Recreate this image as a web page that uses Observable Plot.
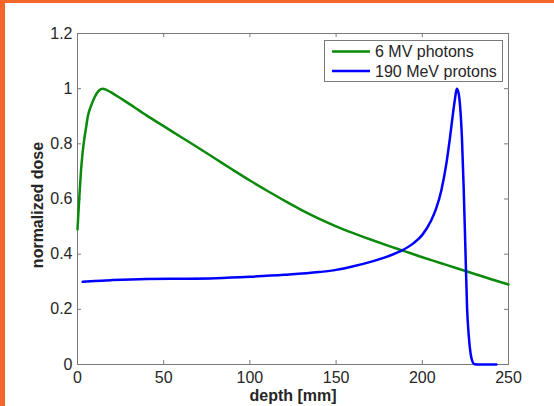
<!DOCTYPE html>
<html>
<head>
<meta charset="utf-8">
<script src="https://cdn.jsdelivr.net/npm/d3@7"></script>
<script src="https://cdn.jsdelivr.net/npm/@observablehq/plot@0.6"></script>
<style>
  html, body { margin: 0; padding: 0; background: #fff; }
  #wrap { position: relative; width: 554px; height: 406px; overflow: hidden; background: #fff; }
  #wrap svg { position: absolute; left: 0; top: 0; font-size: 16px; }
  .bar-left { position: absolute; left: 0; top: 0; width: 5px; height: 406px; background: #f4662a; }
  .bar-top { position: absolute; left: 0; top: 0; width: 554px; height: 3px; background: #f4662a; }
</style>
</head>
<body>
<div id="wrap"><div class="bar-left"></div><div class="bar-top"></div></div>
<script>
const photonDepth = [0, 1, 2, 3, 4, 5, 6, 8, 10, 12, 14.5, 17, 20, 25, 30, 40, 50, 60, 70, 80, 90, 100, 110, 120, 130, 140, 150, 160, 170, 180, 190, 200, 210, 220, 230, 240, 250];
const photonDose  = [0.49, 0.60, 0.70, 0.77, 0.82, 0.86, 0.90, 0.94, 0.97, 0.99, 1.0, 0.995, 0.985, 0.965, 0.945, 0.903, 0.864, 0.825, 0.786, 0.746, 0.706, 0.667, 0.630, 0.594, 0.560, 0.529, 0.501, 0.476, 0.453, 0.431, 0.410, 0.389, 0.369, 0.349, 0.329, 0.309, 0.29];

const protonDepth = [3, 10, 20, 40, 60, 80, 100, 120, 140, 150, 160, 170, 180, 187, 195, 200, 205, 208, 211, 214, 216, 218, 219, 220, 221, 222, 223, 224, 225, 226, 227, 228, 229, 230, 232, 236, 240, 243];
const protonDose  = [0.30, 0.303, 0.306, 0.31, 0.311, 0.313, 0.318, 0.325, 0.335, 0.343, 0.356, 0.372, 0.392, 0.41, 0.44, 0.47, 0.52, 0.565, 0.63, 0.73, 0.82, 0.92, 0.965, 1.0, 0.985, 0.93, 0.82, 0.64, 0.42, 0.2, 0.1, 0.04, 0.012, 0.002, 0, 0, 0, 0];

const seriesNames = ["6 MV photons", "190 MeV protons"];
const seriesColors = ["#0a8a0a", "#0000ff"];
const xTicks = [0, 50, 100, 150, 200, 250];
const yTicks = [0, 0.2, 0.4, 0.6, 0.8, 1, 1.2];
const yTickLabels = ["0", "0.2", "0.4", "0.6", "0.8", "1", "1.2"];

const photons = photonDepth.map((d, i) => ({depth: d, dose: photonDose[i]}));
const protons = protonDepth.map((d, i) => ({depth: d, dose: protonDose[i]}));

const axisColor = "#7a7a7a";
const textColor = "#262626";
const font = "Liberation Sans, Arial, sans-serif";

const plot = Plot.plot({
  width: 554,
  height: 406,
  marginLeft: 77,
  marginRight: 46,
  marginTop: 33,
  marginBottom: 42,
  style: {fontFamily: font, fontSize: "16px", color: textColor, background: "transparent"},
  x: {domain: [0, 250], ticks: xTicks, label: null},
  y: {domain: [0, 1.2], ticks: yTicks, label: null},
  marks: [
    Plot.ruleX(xTicks, {x: d => d, y1: 0, y2: 0.0145, stroke: axisColor}),
    Plot.ruleX(xTicks, {x: d => d, y1: 1.2, y2: 1.2 - 0.0145, stroke: axisColor}),
    Plot.ruleY(yTicks, {y: d => d, x1: 0, x2: 2.3, stroke: axisColor}),
    Plot.ruleY(yTicks, {y: d => d, x1: 250, x2: 247.7, stroke: axisColor}),
    Plot.frame({stroke: axisColor, strokeWidth: 1}),
    Plot.axisX({ticks: xTicks, tickSize: 0, tickPadding: 7, fontSize: 16, fill: textColor, label: null}),
    Plot.axisY({ticks: yTicks, tickSize: 0, tickPadding: 5, fontSize: 16, fill: textColor, label: null, tickFormat: d => yTickLabels[yTicks.indexOf(d)]}),
    Plot.line(photons, {x: "depth", y: "dose", stroke: seriesColors[0], strokeWidth: 2.5, curve: "monotone-x"}),
    Plot.line(protons, {x: "depth", y: "dose", stroke: seriesColors[1], strokeWidth: 2.5, curve: "monotone-x"}),
    Plot.text(["depth [mm]"], {frameAnchor: "bottom", dy: 36, text: d => d, fontWeight: "bold", fontSize: 16, fill: textColor}),
    Plot.text(["normalized dose"], {frameAnchor: "left", textAnchor: "middle", dx: -40, dy: 6, rotate: -90, text: d => d, fontWeight: "bold", fontSize: 16, fill: textColor})
  ]
});

// legend box inside the axes (top right)
const svg = d3.select(plot);
const lg = svg.append("g").attr("font-family", font).attr("font-size", 16).attr("text-anchor", "start");
lg.append("rect").attr("x", 324.5).attr("y", 40.5).attr("width", 178).attr("height", 41)
  .attr("fill", "#fff").attr("stroke", axisColor);
seriesNames.forEach((name, i) => {
  const y = 51.5 + i * 19.5;
  lg.append("line").attr("x1", 332).attr("x2", 370).attr("y1", y).attr("y2", y)
    .attr("stroke", seriesColors[i]).attr("stroke-width", 2.5);
  lg.append("text").attr("x", 375).attr("y", y).attr("dy", "0.35em")
    .attr("text-anchor", "start").attr("fill", textColor).text(name);
});

document.getElementById("wrap").prepend(plot);
</script>
</body>
</html>
